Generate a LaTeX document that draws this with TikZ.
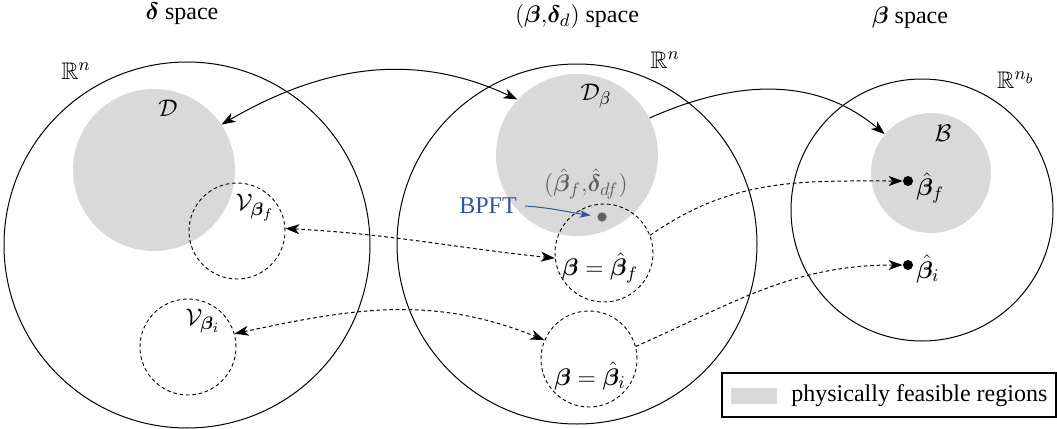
\documentclass[tikz,border=0pt,12pt]{standalone}
\usepackage{amsmath,amssymb,bm}
\usepackage{fontspec}
\setmainfont{Liberation Serif}
\DeclareMathSizes{12}{12}{9}{7}
\usetikzlibrary{arrows.meta}
\definecolor{feas}{gray}{0.85}
\definecolor{bpftc}{RGB}{50,82,165}
\definecolor{lbl}{gray}{0.38}
\begin{document}
\begin{tikzpicture}[x=0.5pt,y=-0.5pt,
  region/.style={circle, fill=feas, draw=none, inner sep=0pt},
  spacec/.style={circle, draw, line width=0.5pt, inner sep=0pt},
  nbhd/.style={circle, draw, dash pattern=on 1.8pt off 1.4pt, line width=0.45pt, inner sep=0pt},
  stl/.tip={Stealth[length=7pt,width=5pt,inset=2pt]},
  onetip/.style={line width=0.5pt, -stl},
  twotip/.style={line width=0.5pt, stl-stl},
  dsh/.style={dash pattern=on 1.8pt off 1.4pt},
  dotc/.style={circle, fill=black, inner sep=0pt, minimum size=5pt},
]
\useasboundingbox (0,0) rectangle (1057,429);

% feasible regions
\node[region, minimum size=81pt] (D)  at (154,170) {};
\node[region, minimum size=81pt] (Db) at (577,155) {};
\node[region, minimum size=60pt] (B)  at (931,173) {};

% spaces
\node[spacec, minimum size=183pt] (S1) at (187,245) {};
\node[spacec, minimum size=180pt] (S2) at (577,244) {};
\node[spacec, minimum size=131pt] (S3) at (922,210) {};

% neighbourhoods
\node[nbhd, minimum size=48pt] (Vf) at (237,231) {};
\node[nbhd, minimum size=48pt] (Vi) at (188,347) {};
\node[nbhd, minimum size=49pt] (Cf) at (604,253) {};
\node[nbhd, minimum size=48pt] (Ci) at (589,359) {};

% titles
\node (t1) at (182,14) {$\bm{\delta}$ space};
\node (t2) at (577,16) {$(\bm{\beta}{,}\bm{\delta}_d)$ space};
\node (t3) at (910,18) {$\bm{\beta}$ space};

% R labels
\node (r1) at (76,71) {$\mathbb{R}^n$};
\node (r2) at (665,60) {$\mathbb{R}^n$};
\node (r3) at (1016,80) {$\mathbb{R}^{n_b}$};

% region labels
\node (lD)  at (168,108) {$\mathcal{D}$};
\node (lDb) at (596,96) {$\mathcal{D}_{\beta}$};
\node (lB)  at (943,133) {$\mathcal{B}$};
\node (lVf) at (255,208) {$\mathcal{V}_{\bm{\beta}_f}$};
\node (lVi) at (203,321) {$\mathcal{V}_{\bm{\beta}_i}$};
\node (lCf) at (600,268) {$\bm{\beta}=\hat{\bm{\beta}}_f$};
\node (lCi) at (590,376) {$\bm{\beta}=\hat{\bm{\beta}}_i$};

% BPFT point
\node[text=lbl] (lpt) at (586,184) {$(\hat{\bm{\beta}}_f{,}\hat{\bm{\delta}}_{df})$};
\node[circle, fill=lbl, inner sep=0pt, minimum size=4.6pt] (gdot) at (602,217) {};
\node[text=bpftc] (bp) at (488,206) {BPFT};
\draw[bpftc, line width=0.5pt, -{Stealth[length=5.5pt,width=3.8pt,inset=1.5pt]}, shorten >=3.2pt]
  (bp.east) to[out=-4,in=172] (gdot);

% points in beta space
\node[dotc] (pf) at (908,181) {};
\node[dotc] (pi) at (908,265) {};
\node[anchor=west, inner sep=1pt] (lpf) at (914,188) {$\hat{\bm{\beta}}_f$};
\node[anchor=west, inner sep=1pt] (lpi) at (914,269) {$\hat{\bm{\beta}}_i$};

% solid connectors
\draw[twotip] (D.34) to[out=30,in=155] (Db.137);
\draw[onetip] (Db.27) to[out=24,in=140] (B.140);

% dashed connectors
\draw[twotip, dsh] (Vf.3) to[out=-3,in=174] (Cf.186);
\draw[twotip, dsh] (Vi.16) to[out=12,in=158] (Ci.157);
\draw[onetip, dsh] (Cf.21) to[out=35,in=180] (pf.west);
\draw[onetip, dsh] (Ci.15) to[out=24,in=180] (pi.west);

% legend
\node[draw, line width=0.6pt, minimum width=167pt, minimum height=22pt, inner sep=0pt] (leg) at (889,395) {};
\node[fill=feas, minimum width=23pt, minimum height=8pt, inner sep=0pt] (sw) at (754,396) {};
\node[anchor=west] (lt) at (783,396) {physically feasible regions};
\end{tikzpicture}
\end{document}
